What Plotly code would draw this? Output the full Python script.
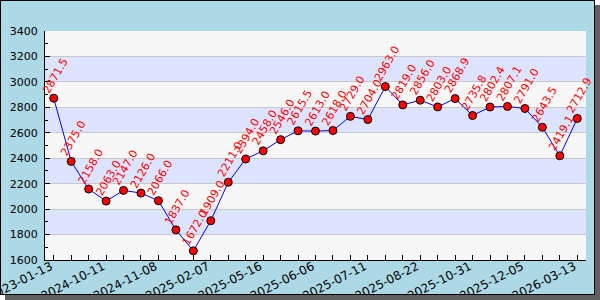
import plotly.graph_objects as go

values = [2871.5, 2375.0, 2158.0, 2063.0, 2147.0, 2126.0, 2066.0, 1837.0, 1672.0,
          1909.0, 2211.0, 2394.0, 2458.0, 2546.0, 2615.5, 2613.0, 2618.0, 2729.0,
          2704.0, 2963.0, 2819.0, 2856.0, 2803.0, 2868.9, 2735.8, 2802.4, 2807.1,
          2791.0, 2643.5, 2419.1, 2712.9]
tick_labels = ["2023-01-13", "2024-10-11", "2024-11-08", "2025-02-07", "2025-05-16",
               "2025-06-06", "2025-07-11", "2025-08-22", "2025-10-31", "2025-12-05",
               "2026-03-13"]
label_every = 3
y_min, y_max, y_step = 1600, 3400, 200

idx = list(range(len(values)))
ticktext = []
for i in idx:
    ticktext.append(tick_labels[i // label_every] if i % label_every == 0 else "")

W, H = 600, 300
L, R, T, B = 45, 14, 31, 40
pw, ph = W - L - R, H - T - B


def px(x):
    return (x - L) / pw


def py(y):
    return (H - B - y) / ph


fig = go.Figure()
fig.add_trace(go.Scatter(
    x=idx, y=values, mode="lines+markers",
    line=dict(color="#0000ff", width=1),
    marker=dict(color="#ff0000", size=8, line=dict(color="#000000", width=1)),
    hoverinfo="skip", showlegend=False))

annotations = []
for i, v in zip(idx, values):
    annotations.append(dict(
        x=i, y=v, xref="x", yref="y", text=f"{v:.1f}", showarrow=False,
        textangle=-60, font=dict(family="DejaVu Sans", size=11, color="#ff0000"),
        xanchor="center", yanchor="middle", xshift=2, yshift=23))

shapes = []
# alternating bands
for b in range(y_min + y_step, y_max, 2 * y_step):
    shapes.append(dict(type="rect", xref="paper", yref="y", x0=0, x1=1,
                       y0=b, y1=b + y_step, fillcolor="#dde4ff",
                       line=dict(width=0), layer="below"))


def rect(x0, x1, y0, y1, color):
    shapes.append(dict(type="rect", xref="paper", yref="paper",
                       x0=px(x0), x1=px(x1), y0=py(y0), y1=py(y1),
                       fillcolor=color, line=dict(width=0), layer="above"))


# white corners, shadow, frame border
rect(594.5, 600, 0, 300, "#ffffff")
rect(0, 600, 294.5, 300, "#ffffff")
rect(595, 600, 5, 300, "#606060")
rect(5, 600, 295, 300, "#606060")
rect(0, 595, 0, 1, "#000000")
rect(0, 1, 0, 295, "#000000")
rect(0, 595, 294, 295, "#000000")
rect(594, 595, 0, 295, "#000000")

fig.update_layout(
    width=W, height=H, margin=dict(l=L, r=R, t=T, b=B, pad=0, autoexpand=False),
    paper_bgcolor="#add8e6", plot_bgcolor="#f7f7f7",
    font=dict(family="DejaVu Sans", size=11, color="#000000"),
    annotations=annotations, shapes=shapes,
)
fig.update_xaxes(
    range=[-0.5, len(values) - 0.5], tickmode="array", tickvals=idx, ticktext=ticktext,
    tickangle=-27, ticks="inside", ticklen=5, tickcolor="#000000",
    showline=True, linecolor="#000000", linewidth=1, showgrid=False, zeroline=False,
    automargin=False, ticklabeloverflow="allow", ticklabelstandoff=-6,
    ticklabelshift=-3,
    tickfont=dict(family="DejaVu Sans", size=12, color="#000000"))
fig.update_yaxes(
    range=[y_min, y_max], dtick=y_step, tick0=y_min, ticks="inside", ticklen=5,
    tickcolor="#000000", showline=True, linecolor="#000000", linewidth=1,
    showgrid=True, gridcolor="#c8c8c8", gridwidth=1, zeroline=False,
    automargin=False, ticklabeloverflow="allow", ticklabelstandoff=4,
    minor=dict(dtick=y_step / 2, ticks="inside", ticklen=3, tickcolor="#000000",
               showgrid=False),
    tickfont=dict(family="DejaVu Sans", size=11, color="#000000"))

fig.write_html("out.html")
